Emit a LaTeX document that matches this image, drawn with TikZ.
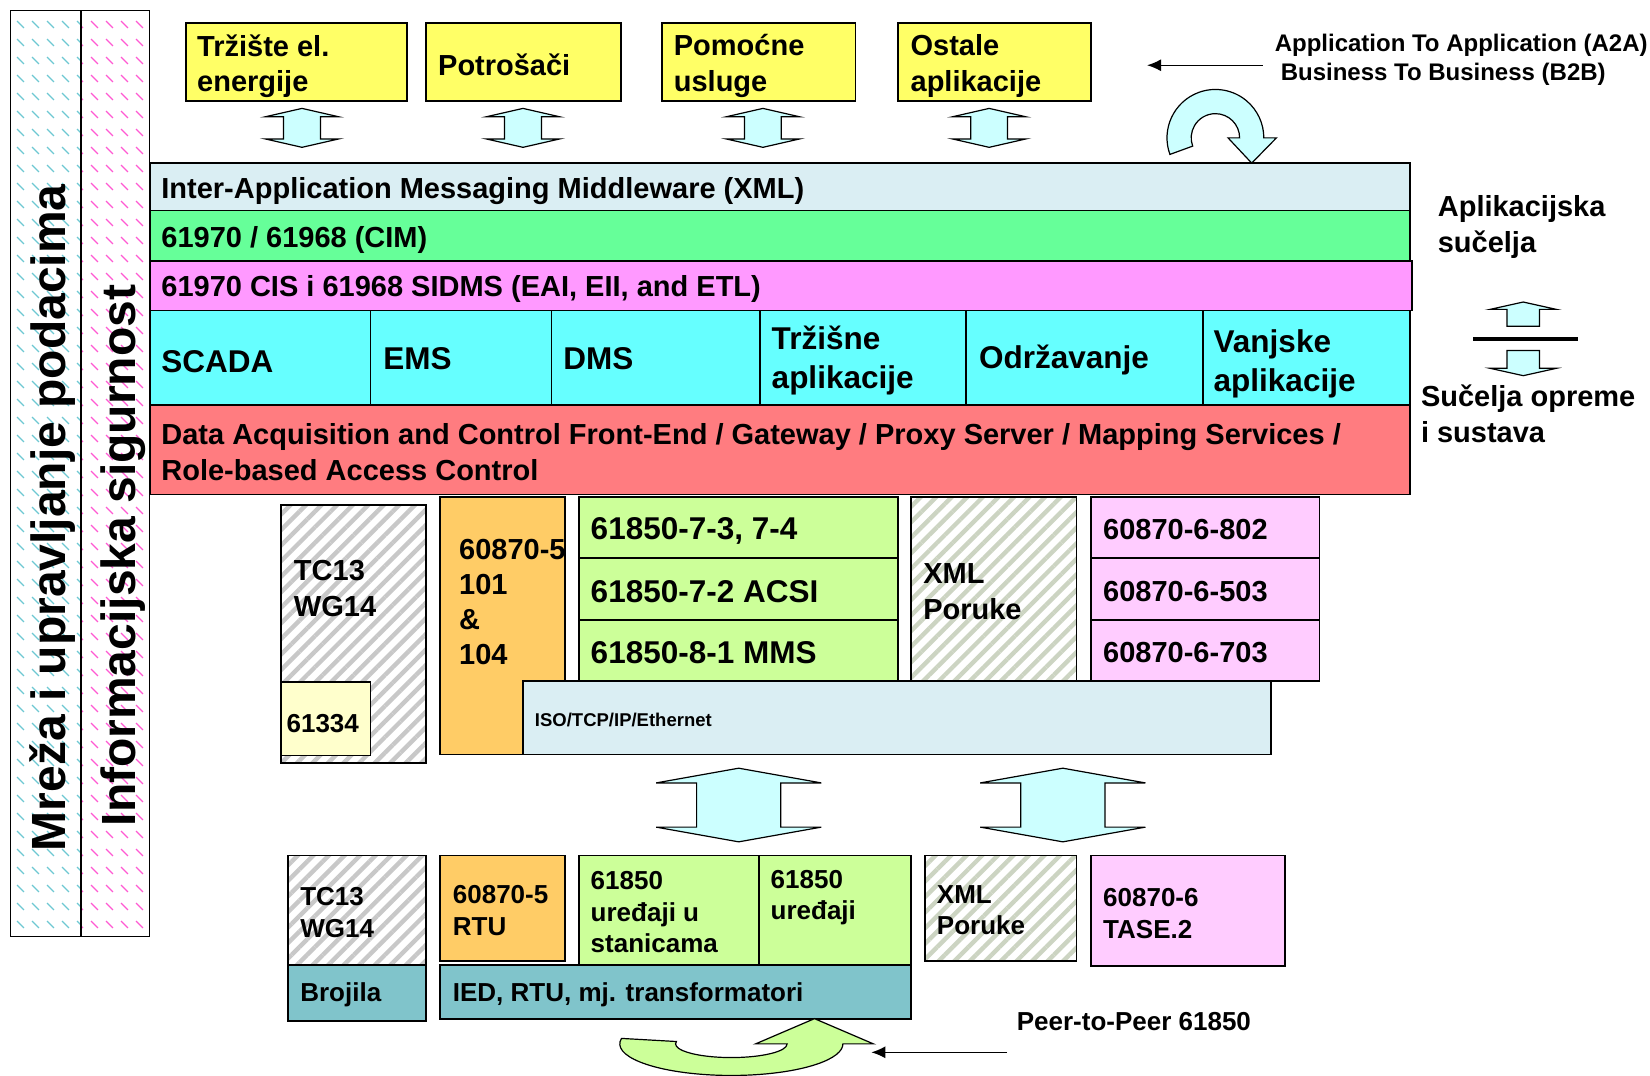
\documentclass[tikz,border=0pt]{standalone}
\usepackage{fontspec}
\setmainfont{Liberation Sans}
\usetikzlibrary{patterns,patterns.meta,arrows.meta}

\definecolor{yellowbox}{RGB}{255,255,102}
\definecolor{arrowcyan}{RGB}{204,255,255}
\definecolor{msgblue}{RGB}{218,238,243}
\definecolor{cimgreen}{RGB}{102,255,153}
\definecolor{cispink}{RGB}{255,153,255}
\definecolor{appcyan}{RGB}{102,255,255}
\definecolor{gwred}{RGB}{255,124,128}
\definecolor{orangebox}{RGB}{255,204,102}
\definecolor{lightgreen}{RGB}{204,255,153}
\definecolor{lightpink}{RGB}{255,204,255}
\definecolor{lightyellow}{RGB}{255,255,204}
\definecolor{tealbox}{RGB}{128,196,203}
\definecolor{hatchgrey}{RGB}{200,200,200}
\definecolor{hatchxml}{RGB}{204,212,194}
\definecolor{barteal}{RGB}{110,200,210}
\definecolor{barpink}{RGB}{255,90,210}

% short dashed hatch of the two side bars
\pgfdeclarepatternformonly{dashhatch}{\pgfqpoint{0pt}{0pt}}{\pgfqpoint{7.5pt}{9pt}}{\pgfqpoint{7.5pt}{9pt}}{%
  \pgfsetlinewidth{0.7pt}%
  \pgfpathmoveto{\pgfqpoint{1pt}{5.5pt}}%
  \pgfpathlineto{\pgfqpoint{4.5pt}{2pt}}%
  \pgfusepath{stroke}%
}

\newcommand{\laymain}{\fontsize{14.5pt}{17.9pt}\selectfont\bfseries}
\newcommand{\laybig}{\fontsize{15.75pt}{19.5pt}\selectfont\bfseries}
\newcommand{\laysmall}{\fontsize{13pt}{15.8pt}\selectfont\bfseries}
\newcommand{\laynote}{\fontsize{12pt}{14.2pt}\selectfont\bfseries}
\newcommand{\laytiny}{\fontsize{9.25pt}{11pt}\selectfont\bfseries}
\newcommand{\layside}{\fontsize{24pt}{28pt}\selectfont\bfseries}

\begin{document}
\begin{tikzpicture}[x=0.5262pt,y=-0.5262pt,
  frame/.style={draw=black,line width=0.9pt},
  lbl/.style={anchor=west,inner sep=0pt,align=left,font=\laymain},
  arrowshape/.style={draw=black,line width=0.6pt,fill=arrowcyan},
  stripes/.style={pattern={Lines[angle=45,distance=5.5pt,line width=2.2pt]},pattern color=#1}]
  \useasboundingbox (0,0) rectangle (1568,1022);

  % side bars
  \path[pattern=dashhatch,pattern color=barteal] (10,10) rectangle (77,890);
  \path[pattern=dashhatch,pattern color=barpink] (77,10) rectangle (142,890);
  \draw[frame] (10,10) rectangle (142,890);
  \draw[frame] (77,10) -- (77,890);
  \node[rotate=90,inner sep=0pt,font=\layside] (mreza) at (50,492) {Mreža i upravljanje podacima};
  \node[rotate=90,inner sep=0pt,font=\layside] (infosig) at (117,528) {Informacijska sigurnost};

  % applications on top
  \foreach \xa/\xb in {177/387,405/590,629/813,853/1037} {
    \draw[frame,fill=yellowbox] (\xa,22) rectangle (\xb,96);
  }
  \node[lbl] (trziste) at (187,63) {Tržište el.\\energije};
  \node[lbl] (potrosaci) at (416,62) {Potrošači};
  \node[lbl] (pomocne) at (640,63) {Pomoćne\\usluge};
  \node[lbl] (ostale) at (865,63) {Ostale\\aplikacije};
  \foreach \cx in {287,497,725,940} {
    \draw[arrowshape] (\cx,103) -- ++(35,8) -- ++(-17.5,0) -- ++(0,21) -- ++(17.5,0)
      -- (\cx,140) -- ++(-35,-8) -- ++(17.5,0) -- ++(0,-21) -- ++(-17.5,0) -- cycle;
  }

  % A2A / B2B
  \node[lbl,font=\laynote,inner xsep=5.8pt] (a2a) at (1200,57)
    {Application To Application (A2A)\\\hspace*{3pt}Business To Business (B2B)};
  \coordinate (a2aend) at (1090,62);
  \draw[line width=0.7pt,-{Latex[length=7pt,width=6pt]}] (a2a.west |- a2aend) -- (a2aend);
  \draw[arrowshape] (1155,131) ++(160:46) arc[start angle=160,end angle=360,radius=46]
    -- ++(12,0) -- (1189.5,155) -- (1167,131) -- (1178,131)
    arc[start angle=360,end angle=160,radius=23] -- cycle;

  % layers
  \draw[frame,fill=msgblue] (143,155) rectangle (1340,200);
  \draw[frame,fill=cimgreen] (143,200) rectangle (1340,248);
  \draw[frame,fill=cispink] (143,248) rectangle (1342,295);
  \draw[frame,fill=appcyan] (143,295) rectangle (1340,385);
  \foreach \xd in {352,524,722,918,1143} {
    \draw[frame] (\xd,295) -- (\xd,385);
  }
  \draw[frame,fill=gwred] (143,385) rectangle (1340,470);
  \node[lbl] (msg) at (153,182) {Inter-Application Messaging Middleware (XML)};
  \node[lbl] (cim) at (153,228) {61970 / 61968 (CIM)};
  \node[lbl] (cis) at (153,275) {61970 CIS i 61968 SIDMS (EAI, EII, and ETL)};
  \node[lbl,font=\laybig] (scada) at (153,344) {SCADA};
  \node[lbl,font=\laybig] (ems) at (364,341) {EMS};
  \node[lbl,font=\laybig] (dms) at (535,341) {DMS};
  \node[lbl,font=\laybig] (trzisne) at (733,343) {Tržišne\\aplikacije};
  \node[lbl,font=\laybig] (odrz) at (930,342) {Održavanje};
  \node[lbl,font=\laybig] (vanjske) at (1153,346) {Vanjske\\aplikacije};
  \node[lbl] (gateway) at (153,430)
    {Data Acquisition and Control Front-End / Gateway / Proxy Server / Mapping Services /\\Role-based Access Control};

  % interface labels on the right
  \node[lbl] (aplsuc) at (1366,216) {Aplikacijska\\sučelja};
  \draw[arrowshape] (1447.5,287) -- (1479,294) -- (1463,294) -- (1463,310)
    -- (1432,310) -- (1432,294) -- (1416,294) -- cycle;
  \draw[line width=1.7pt] (1400,322) -- (1500,322);
  \draw[arrowshape] (1432,333) -- (1463,333) -- (1463,350) -- (1479,350)
    -- (1447.5,357) -- (1416,350) -- (1432,350) -- cycle;
  \node[lbl] (sucopr) at (1350,393) {Sučelja opreme\\i sustava};

  % communication standards
  \draw[frame,stripes=hatchgrey] (267,480) rectangle (405,725);
  \node[lbl] (tcup) at (279,559) {TC13\\WG14};
  \draw[frame,fill=lightyellow] (267,648) rectangle (352,718);
  \node[lbl,font=\laysmall] (std61334) at (272,688) {61334};
  \draw[frame,fill=orangebox] (418,472) rectangle (537,717);
  \node[lbl,font=\fontsize{14.5pt}{17.4pt}\selectfont\bfseries] (iec101) at (436,572) {60870-5\\101\\\&\\104};
  \foreach \ya/\yb in {472/530,530/589,589/647} {
    \draw[frame,fill=lightgreen] (550,\ya) rectangle (853,\yb);
    \draw[frame,fill=lightpink] (1037,\ya) rectangle (1254,\yb);
  }
  \node[lbl,font=\laybig] (acsi73) at (561,505) {61850-7-3, 7-4};
  \node[lbl,font=\laybig] (acsi72) at (561,562) {61850-7-2 ACSI};
  \node[lbl,font=\laybig] (mms) at (561,620) {61850-8-1 MMS};
  \node[lbl] (tase802) at (1048,503) {60870-6-802};
  \node[lbl] (tase503) at (1048,562) {60870-6-503};
  \node[lbl] (tase703) at (1048,620) {60870-6-703};
  \draw[frame,stripes=hatchxml] (866,472) rectangle (1023,647);
  \node[lbl] (xmlup) at (877,562) {XML\\Poruke};
  \draw[frame,fill=msgblue] (497,647) rectangle (1208,717);
  \node[lbl,font=\laytiny] (iso) at (508,684) {ISO/TCP/IP/Ethernet};

  \foreach \cx in {702,1010} {
    \draw[arrowshape] (\cx,730) -- ++(78.5,14) -- ++(-38.5,0) -- ++(0,42) -- ++(38.5,0)
      -- (\cx,800) -- ++(-78.5,-14) -- ++(38.5,0) -- ++(0,-42) -- ++(-38.5,0) -- cycle;
  }

  % field devices
  \draw[frame,stripes=hatchgrey] (274,813) rectangle (405,917);
  \node[lbl,font=\laysmall] (tclow) at (285,867) {TC13\\WG14};
  \draw[frame,fill=tealbox] (274,917) rectangle (405,970);
  \node[lbl,font=\laysmall] (brojila) at (285,945) {Brojila};
  \draw[frame,fill=orangebox] (418,813) rectangle (537,913);
  \node[lbl,font=\laysmall] (rtu) at (430,865) {60870-5\\RTU};
  \draw[frame,fill=lightgreen] (550,813) rectangle (866,917);
  \draw[frame] (721,813) -- (721,917);
  \node[lbl,font=\laysmall] (devsub) at (561,867) {61850\\uređaji u\\stanicama};
  \node[lbl,font=\laysmall] (devall) at (732,853) {61850\\uređaji};
  \draw[frame,fill=tealbox] (418,917) rectangle (866,968);
  \node[lbl,font=\laysmall] (ied) at (430,945) {IED, RTU, mj. transformatori};
  \draw[frame,stripes=hatchxml] (879,813) rectangle (1023,913);
  \node[lbl,font=\laysmall] (xmllow) at (890,865) {XML\\Poruke};
  \draw[frame,fill=lightpink] (1037,813) rectangle (1221,918);
  \node[lbl,font=\laysmall] (tase) at (1048,868) {60870-6\\TASE.2};

  % peer to peer
  \draw[draw=black,line width=0.6pt,fill=lightgreen] (695,992) ++(190:106 and 30)
    arc[start angle=190,end angle=0,x radius=106,y radius=30]
    -- (830,992) -- (774,968) -- (718,992) -- (748,992)
    arc[start angle=0,end angle=190,x radius=53,y radius=13] -- cycle;
  \node[lbl,font=\laysmall,inner xsep=4.7pt] (peer) at (957,971) {Peer-to-Peer 61850};
  \coordinate (peerend) at (828,1000);
  \draw[line width=0.7pt,-{Latex[length=7pt,width=6pt]}] (peer.west |- peerend) -- (peerend);
\end{tikzpicture}
\end{document}
